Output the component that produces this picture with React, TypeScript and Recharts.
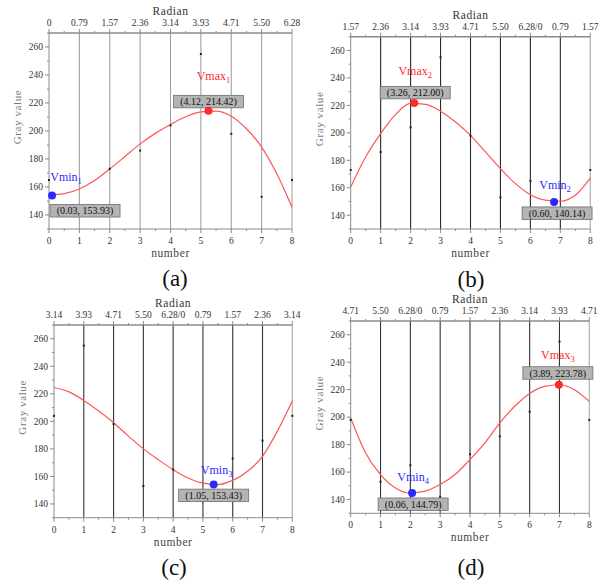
import React from 'react';
import { ComposedChart, Line, Scatter, XAxis, YAxis, ReferenceLine } from 'recharts';

// x positions (sample index 0..8) and the half-step points
const sampleX = [0, 1, 2, 3, 4, 5, 6, 7, 8];
const fitX = [0, 0.5, 1, 1.5, 2, 2.5, 3, 3.5, 4, 4.5, 5, 5.5, 6, 6.5, 7, 7.5, 8];
const xTicks = [0, 0.5, 1, 1.5, 2, 2.5, 3, 3.5, 4, 4.5, 5, 5.5, 6, 6.5, 7, 7.5, 8];
const yTicks = [130, 140, 150, 160, 170, 180, 190, 200, 210, 220, 230, 240, 250, 260, 270];
const gridX = [1, 2, 3, 4, 5, 6, 7];

// top axis tick labels
const radianA = ['0', '0.79', '1.57', '2.36', '3.14', '3.93', '4.71', '5.50', '6.28'];
const radianB = ['1.57', '2.36', '3.14', '3.93', '4.71', '5.50', '6.28/0', '0.79', '1.57'];
const radianC = ['3.14', '3.93', '4.71', '5.50', '6.28/0', '0.79', '1.57', '2.36', '3.14'];
const radianD = ['4.71', '5.50', '6.28/0', '0.79', '1.57', '2.36', '3.14', '3.93', '4.71'];

// measured gray values
const grayA = [165, 142, 173, 186, 204, 255, 198, 153, 165];
const grayB = [173, 186, 204, 255, 198, 153, 165, 142, 173];
const grayC = [204, 255, 198, 153, 165, 142, 173, 186, 204];
const grayD = [198, 153, 165, 142, 173, 186, 204, 255, 198];

// fitted curves
const fitA = [154.3, 155.3, 158.6, 164.6, 172.9, 181.8, 190.8, 198.3, 204.7, 210.2, 213.7, 214.2, 210.6, 201.6, 188.5, 169.4, 145.5];
const fitB = [160.6, 182.4, 199.4, 213.4, 221.4, 220.8, 215.8, 207.9, 198.2, 186.1, 174.0, 163.0, 155.0, 151.0, 150.2, 154.5, 167.0];
const fitC = [224.6, 221.4, 215.2, 207.5, 199.0, 189.3, 180.0, 172.2, 164.9, 158.8, 155.1, 154.1, 157.1, 163.7, 174.6, 192.9, 214.9];
const fitD = [199.4, 173.9, 158.2, 148.5, 144.8, 146.1, 150.9, 158.2, 169.1, 181.2, 195.8, 207.9, 217.3, 222.4, 223.6, 220.0, 211.5];

// extreme points
const extremesA = [
  { kind: 'min', sub: '1', x: 0.1, y: 153.9, text: '(0.03, 153.93)' },
  { kind: 'max', sub: '1', x: 5.25, y: 214.4, text: '(4.12, 214.42)' },
];
const extremesB = [
  { kind: 'max', sub: '2', x: 2.12, y: 221.7, text: '(3.26, 212.00)' },
  { kind: 'min', sub: '2', x: 6.79, y: 149.7, text: '(0.60, 140.14)' },
];
const extremesC = [{ kind: 'min', sub: '3', x: 5.36, y: 154.1, text: '(1.05, 153.43)' }];
const extremesD = [
  { kind: 'min', sub: '4', x: 2.06, y: 144.8, text: '(0.06, 144.79)' },
  { kind: 'max', sub: '3', x: 6.98, y: 223.6, text: '(3.89, 223.78)' },
];

const FONT = '"Liberation Serif", serif';
const AXIS = '#8a8a8a';

const LeftTick = ({ x, y, payload }: any) => {
  const v = payload.value;
  const major = v % 20 === 0 && v >= 140 && v <= 260;
  return (
    <g>
      <line x1={x} x2={x - (major ? 4 : 2)} y1={y} y2={y} stroke={AXIS} />
      {major && (
        <text x={x - 6} y={y} dy="0.35em" textAnchor="end" fontSize={9.5} fontFamily={FONT} fill="#333">
          {v}
        </text>
      )}
    </g>
  );
};

const BottomTick = ({ x, y, payload }: any) => {
  const v = payload.value;
  const major = Number.isInteger(v);
  return (
    <g>
      <line x1={x} x2={x} y1={y} y2={y + (major ? 4 : 2)} stroke={AXIS} />
      {major && (
        <text x={x} y={y + 15} textAnchor="middle" fontSize={9.5} fontFamily={FONT} fill="#333">
          {v}
        </text>
      )}
    </g>
  );
};

const TopTick = ({ x, y, payload, labels }: any) => {
  const v = payload.value;
  const major = Number.isInteger(v);
  return (
    <g>
      <line x1={x} x2={x} y1={y} y2={y - (major ? 4 : 2)} stroke={AXIS} />
      {major && (
        <text x={x} y={y - 7} textAnchor="middle" fontSize={9.5} fontFamily={FONT} fill="#333">
          {labels[v]}
        </text>
      )}
    </g>
  );
};

const SampleDot = ({ cx, cy }: any) => <rect x={cx - 1} y={cy - 1} width={2} height={2} fill="#222" />;

const Extreme = ({ cx, cy, e, place }: any) => {
  const color = e.kind === 'min' ? '#2a2aff' : '#ff2a2a';
  const bw = 70;
  const bh = 12.5;
  return (
    <g>
      <rect x={cx + place.bx - bw / 2} y={cy + place.by} width={bw} height={bh} fill="#b4b4b4" stroke="#6e6e6e" strokeWidth={0.8} />
      <text x={cx + place.bx} y={cy + place.by + bh / 2} dy="0.36em" textAnchor="middle" fontSize={10} fontFamily={FONT} fill="#111">
        {e.text}
      </text>
      <text x={cx + place.nx} y={cy + place.ny} textAnchor="middle" fontSize={12} fontFamily={FONT} fill={color}>
        {e.kind === 'min' ? 'Vmin' : 'Vmax'}
        <tspan fontSize={8.5} dy={3}>{e.sub}</tspan>
      </text>
      <circle cx={cx} cy={cy} r={4} fill={color} />
    </g>
  );
};

const panels = [
  {
    caption: '(a)', left: 0, top: 0, w: 305, h: 290,
    margin: { top: 7, right: 13, bottom: 31, left: 9 },
    radian: radianA, gray: grayA, fit: fitA, extremes: extremesA, grid: '#a0a0a0',
    places: [{ nx: 14, ny: -15, bx: 33, by: 9 }, { nx: 5, ny: -31, bx: 0, by: -15.5 }],
    capX: 175, capY: 266,
  },
  {
    caption: '(b)', left: 305, top: 0, w: 304, h: 290,
    margin: { top: 10.7, right: 18.7, bottom: 31, left: 5.7 },
    radian: radianB, gray: grayB, fit: fitB, extremes: extremesB, grid: '#2a2a2a',
    places: [{ nx: 1, ny: -28, bx: 1, by: -16.7 }, { nx: 1, ny: -13, bx: 3, by: 5 }],
    capX: 471, capY: 267,
  },
  {
    caption: '(c)', left: 0, top: 290, w: 305, h: 292,
    margin: { top: 9, right: 12.7, bottom: 34.3, left: 14 },
    radian: radianC, gray: grayC, fit: fitC, extremes: extremesC, grid: '#333333',
    places: [{ nx: 3, ny: -11, bx: 0, by: 4.6 }],
    capX: 174, capY: 555,
  },
  {
    caption: '(d)', left: 305, top: 290, w: 304, h: 292,
    margin: { top: 5, right: 19.7, bottom: 38.7, left: 5.7 },
    radian: radianD, gray: grayD, fit: fitD, extremes: extremesD, grid: '#333333',
    places: [{ nx: 1, ny: -12, bx: 1, by: 5 }, { nx: -1, ny: -26, bx: -1, by: -18 }],
    capX: 471, capY: 555,
  },
];

function Panel({ p }: any) {
  const samples = sampleX.map((x, i) => ({ x, y: p.gray[i] }));
  const curve = fitX.map((x, i) => ({ x, y: p.fit[i] }));
  return (
    <>
      <div style={{ position: 'absolute', left: p.left, top: p.top }}>
        <ComposedChart width={p.w} height={p.h} margin={p.margin}>
          <XAxis
            xAxisId="b" dataKey="x" type="number" domain={[0, 8]} ticks={xTicks} interval={0}
            tickSize={0} tickMargin={0} tickLine={false} axisLine={{ stroke: AXIS }} height={30}
            tick={(t: any) => <BottomTick {...t} />}
            label={{ value: 'number', position: 'insideBottom', offset: 2, fontSize: 11.5, fontFamily: FONT, fill: '#444', letterSpacing: 0.6 }}
          />
          <XAxis
            xAxisId="t" orientation="top" dataKey="x" type="number" domain={[0, 8]} ticks={xTicks} interval={0}
            allowDataOverflow tickSize={0} tickMargin={0} tickLine={false}
            axisLine={{ stroke: AXIS, strokeWidth: 1.6 }} height={26}
            tick={(t: any) => <TopTick {...t} labels={p.radian} />}
            label={{ value: 'Radian', position: 'insideTop', offset: 0, fontSize: 11.5, fontFamily: FONT, fill: '#333', letterSpacing: 0.6 }}
          />
          <YAxis
            yAxisId="l" dataKey="y" type="number" domain={[130, 270]} ticks={yTicks} interval={0}
            tickSize={0} tickMargin={0} tickLine={false} axisLine={{ stroke: AXIS }} width={40}
            tick={(t: any) => <LeftTick {...t} />}
            label={{ value: 'Gray value', angle: -90, position: 'center', dx: -12, dy: -14, fontSize: 11, fontFamily: FONT, fill: '#7a7a7a', letterSpacing: 0.6 }}
          />
          {gridX.map((v) => (
            <ReferenceLine key={v} xAxisId="b" yAxisId="l" x={v} stroke={p.grid} strokeWidth={1.1} />
          ))}
          <ReferenceLine xAxisId="b" yAxisId="l" x={8} stroke="#b0b0b0" strokeWidth={1.2} />
          <Line
            xAxisId="b" yAxisId="l" data={curve} dataKey="y" type="monotone"
            stroke="#ff5555" strokeWidth={1.2} dot={false} isAnimationActive={false}
          />
          <Scatter xAxisId="b" yAxisId="l" data={samples} dataKey="y" shape={SampleDot} isAnimationActive={false} />
          {p.extremes.map((e: any, i: number) => (
            <Scatter
              key={i} xAxisId="b" yAxisId="l" data={[e]} dataKey="y" isAnimationActive={false}
              shape={(s: any) => <Extreme cx={s.cx} cy={s.cy} e={e} place={p.places[i]} />}
            />
          ))}
        </ComposedChart>
      </div>
      <div
        style={{
          position: 'absolute', left: p.capX - 30, top: p.capY, width: 60, textAlign: 'center',
          fontFamily: FONT, fontSize: 23, color: '#111', lineHeight: '26px',
        }}
      >
        {p.caption}
      </div>
    </>
  );
}

export default function App() {
  return (
    <div style={{ position: 'absolute', left: 0, top: 0, width: 609, height: 582, background: '#fff' }}>
      {panels.map((p) => (
        <Panel key={p.caption} p={p} />
      ))}
    </div>
  );
}
